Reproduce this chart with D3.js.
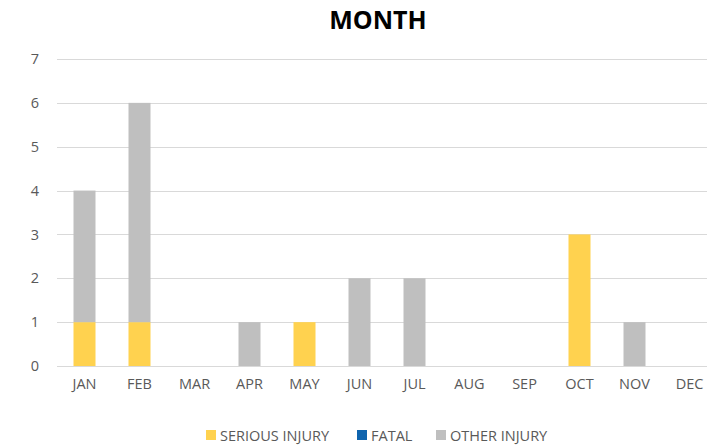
<!DOCTYPE html>
<html lang="en">
<head>
<meta charset="utf-8">
<title>MONTH</title>
<script src="https://d3js.org/d3.v7.min.js"></script>
<style>
  body { margin: 0; background: #fff; }
  text { font-family: "Open Sans", "Noto Sans", sans-serif; fill: #595959; }
</style>
</head>
<body>
<svg id="chart" width="707" height="446"></svg>
<script>
var months = ["JAN","FEB","MAR","APR","MAY","JUN","JUL","AUG","SEP","OCT","NOV","DEC"];
var serious = [1,1,0,0,1,0,0,0,0,3,0,0];
var fatal = [0,0,0,0,0,0,0,0,0,0,0,0];
var other = [3,5,0,1,0,2,2,0,0,0,1,0];
var seriesNames = ["SERIOUS INJURY","FATAL","OTHER INJURY"];
var seriesColors = ["#FFD24F","#0F64AE","#BFBFBF"];
var yTicks = [0,1,2,3,4,5,6,7];

function draw() {
  var svg = d3.select("#chart");
  var x = d3.scaleBand().domain(months).range([57, 717]).paddingInner(0.6).paddingOuter(0.3);
  var y = d3.scaleLinear().domain([0, 7]).range([366, 59]);

  var rows = months.map(function(m, i) {
    return {month: m, s: serious[i], f: fatal[i], o: other[i]};
  });
  var stack = d3.stack().keys(["s","f","o"])(rows);

  // gridlines
  svg.append("g")
    .selectAll("line").data(yTicks).join("line")
    .attr("x1", 57).attr("x2", 717)
    .attr("y1", function(d) { return Math.round(y(d)) + 0.5; })
    .attr("y2", function(d) { return Math.round(y(d)) + 0.5; })
    .attr("stroke", "#d9d9d9").attr("stroke-width", 1);

  // y labels
  var yAxis = svg.append("g").attr("transform", "translate(39,0)")
    .call(d3.axisLeft(y).tickValues(yTicks).tickFormat(d3.format("d")).tickSize(0).tickPadding(0));
  yAxis.select(".domain").remove();
  yAxis.selectAll("text").style("font-size", "14.5px").attr("fill", "#595959");

  // x labels
  var xAxis = svg.append("g").attr("transform", "translate(0,375)")
    .call(d3.axisBottom(x).tickSize(0).tickPadding(4));
  xAxis.select(".domain").remove();
  xAxis.selectAll("text").style("font-size", "14.5px").attr("fill", "#595959");

  // bars
  svg.append("g").selectAll("g").data(stack).join("g")
    .attr("fill", function(d, i) { return seriesColors[i]; })
    .selectAll("rect").data(function(d) { return d; }).join("rect")
    .attr("x", function(d) { return x(d.data.month); })
    .attr("width", x.bandwidth())
    .attr("y", function(d) { return y(d[1]); })
    .attr("height", function(d) { return y(d[0]) - y(d[1]); });

  // title
  svg.append("text")
    .attr("x", 378).attr("y", 29)
    .attr("text-anchor", "middle")
    .style("font-size", "25px").style("font-weight", "bold")
    .style("fill", "#000")
    .text("MONTH");

  // legend
  var legendX = [206, 357, 436];
  var legend = svg.append("g").selectAll("g").data(seriesNames).join("g")
    .attr("transform", function(d, i) { return "translate(" + legendX[i] + ",430)"; });
  legend.append("rect").attr("width", 10).attr("height", 10)
    .attr("fill", function(d, i) { return seriesColors[i]; });
  legend.append("text").attr("x", 14).attr("y", 11)
    .style("font-size", "14.5px")
    .text(function(d) { return d; });
}
draw();
</script>
</body>
</html>
